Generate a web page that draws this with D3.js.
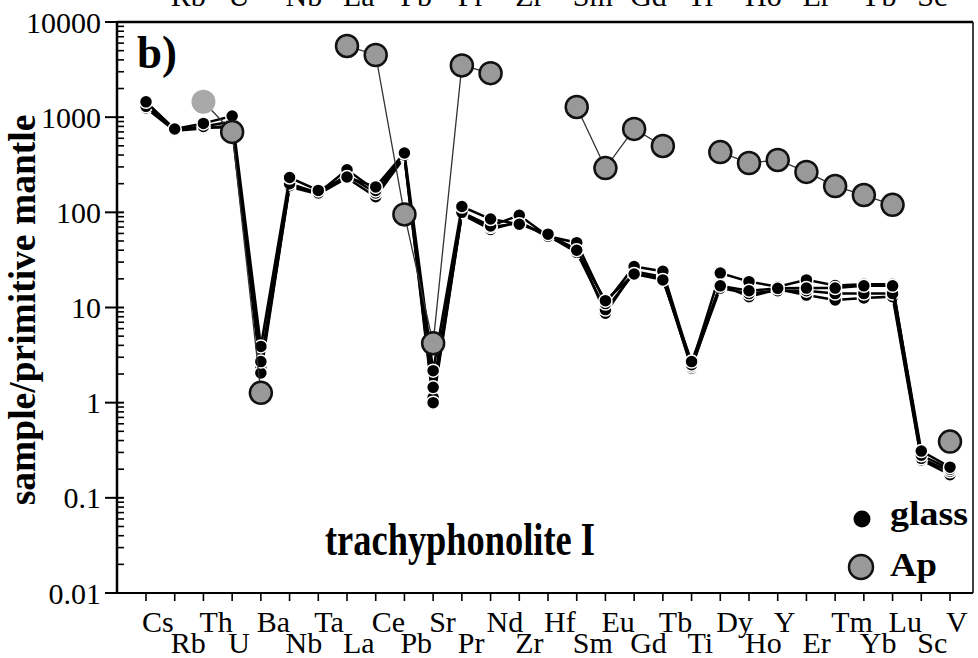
<!DOCTYPE html>
<meta charset='utf-8'>
<style>
body { margin: 0; background: #fff; }
svg { display: block; font-family: 'Liberation Serif', 'Times New Roman', serif; }
.glass-line { fill: none; stroke: #000; stroke-width: 2.5; }
.ap-line { fill: none; stroke: #333; stroke-width: 1.3; }
</style>
<svg width='978' height='658'></svg>
<script src='https://cdn.jsdelivr.net/npm/d3@7/dist/d3.min.js'></script>
<script>

var elements = ['Cs','Rb','Th','U','Ba','Nb','Ta','La','Ce','Pb','Sr','Pr','Nd','Zr','Hf',
                'Sm','Eu','Gd','Tb','Ti','Dy','Ho','Y','Er','Tm','Yb','Lu','Sc','V'];

// glass analyses (sample / primitive mantle), drawn first to last
var glass3 = [1250,720,760,820,2.3,186,155,230,146,380,1.13,95,66,80,55,42,8.7,24,21,2.3,17.5,13,15.5,13.5,12,12.6,13,0.25,0.175];
var glass4 = [1350,730,780,780,2.05,190,158,245,160,390,1.0,97,70,77,57,38,9.5,23,20,2.4,16,14,15,15,14,14,14,0.26,0.19];
var glass2 = [1300,740,800,900,2.7,200,160,280,170,400,1.45,100,72,93,56,48,11,27,24,2.5,23,18.7,16.5,19.5,17,17.5,17.5,0.28,0.2];
var glass1 = [1450,750,860,1030,3.9,232,170,235,185,420,2.17,115,85,75,59,40,11.8,22.5,19.5,2.7,16.9,15,15.9,16,16,16.9,16.9,0.31,0.21];

// apatite, null = not analysed
var apatite = [null,null,1450,700,1.27,null,null,5600,4500,95,4.2,3500,2900,null,null,
               1280,292,752,498,null,430,330,355,266,189,152,120,null,0.39];
var apFaint = ['Th'];

var yTicks = [0.01, 0.1, 1, 10, 100, 1000, 10000];
var yTickLabels = ['0.01', '0.1', '1', '10', '100', '1000', '10000'];

var svg = d3.select('svg'),
    plotLeft = 117, plotRight = 973, plotTop = 22, plotBottom = 593;

var x = d3.scalePoint().domain(elements).range([146, 950]);
var y = d3.scaleLog().domain([0.01, 10000]).range([plotBottom, plotTop]);

// frame
svg.append('line').attr('x1', plotLeft).attr('x2', plotRight).attr('y1', plotTop).attr('y2', plotTop)
    .attr('stroke', '#000').attr('stroke-width', 2.5);
svg.append('line').attr('x1', plotRight).attr('x2', plotRight).attr('y1', plotTop).attr('y2', plotBottom)
    .attr('stroke', '#000').attr('stroke-width', 1.5);

// y axis with inner minor ticks
var yAxis = svg.append('g').attr('transform', 'translate(' + plotLeft + ',0)');
yAxis.append('line').attr('y1', plotTop).attr('y2', plotBottom).attr('stroke', '#000').attr('stroke-width', 2.5);
var minors = [];
yTicks.slice(0, -1).forEach(function(d) {
    for (var k = 2; k <= 9; k++) minors.push(d * k);
});
yAxis.selectAll('.minor').data(minors).enter().append('line')
    .attr('x1', 0).attr('x2', 7)
    .attr('y1', function(d) { return y(d); }).attr('y2', function(d) { return y(d); })
    .attr('stroke', '#000').attr('stroke-width', 1.6);
yAxis.selectAll('.major').data(yTicks).enter().append('line')
    .attr('x1', -12).attr('x2', 7)
    .attr('y1', function(d) { return y(d); }).attr('y2', function(d) { return y(d); })
    .attr('stroke', '#000').attr('stroke-width', 2);
yAxis.selectAll('.ylab').data(yTicks).enter().append('text')
    .attr('x', -16).attr('y', function(d) { return y(d); })
    .attr('dy', '0.35em').attr('text-anchor', 'end')
    .attr('font-size', 30)
    .text(function(d, i) { return yTickLabels[i]; });

svg.append('text')
    .attr('transform', 'translate(35,310) rotate(-90)')
    .attr('text-anchor', 'middle')
    .attr('font-size', 37.5).attr('font-weight', 'bold')
    .text('sample/primitive mantle');

// x axis
var xAxis = svg.append('g');
xAxis.append('line').attr('x1', plotLeft).attr('x2', plotRight).attr('y1', plotBottom).attr('y2', plotBottom)
    .attr('stroke', '#000').attr('stroke-width', 2);
xAxis.selectAll('.xt').data(elements).enter().append('line')
    .attr('x1', function(d) { return x(d); }).attr('x2', function(d) { return x(d); })
    .attr('y1', plotBottom).attr('y2', plotBottom + 8)
    .attr('stroke', '#000').attr('stroke-width', 1.6);
xAxis.selectAll('.xl').data(elements).enter().append('text')
    .attr('x', function(d) { return x(d) - 4; })
    .attr('y', function(d, i) { return i % 2 ? 653 : 632; })
    .attr('font-size', 30)
    .text(function(d) { return d; });

// clipped labels of the panel above
svg.selectAll('.prev').data(elements.filter(function(d, i) { return i % 2; })).enter().append('text')
    .attr('x', function(d) { return x(d) - 4; })
    .attr('y', 6)
    .attr('font-size', 30)
    .text(function(d) { return d; });

// glass series
var line = d3.line()
    .x(function(d, i) { return x(elements[i]); })
    .y(function(d) { return y(d); });

[glass3, glass4, glass2, glass1].forEach(function(series) {
    var g = svg.append('g');
    g.append('path').datum(series).attr('class', 'glass-line').attr('d', line);
    g.selectAll('circle').data(series).enter().append('circle')
        .attr('cx', function(d, i) { return x(elements[i]); })
        .attr('cy', function(d) { return y(d); })
        .attr('r', 6.5)
        .attr('fill', '#000').attr('stroke', '#fff').attr('stroke-width', 1.5);
});

// apatite
var apLine = d3.line()
    .defined(function(d) { return d != null; })
    .x(function(d, i) { return x(elements[i]); })
    .y(function(d) { return y(d); });
var apG = svg.append('g');
apG.append('path').datum(apatite).attr('class', 'ap-line').attr('d', apLine);
var apPts = apatite.map(function(v, i) { return { el: elements[i], v: v }; })
    .filter(function(d) { return d.v != null; });
apG.selectAll('circle').data(apPts).enter().append('circle')
    .attr('cx', function(d) { return x(d.el); })
    .attr('cy', function(d) { return y(d.v); })
    .attr('r', function(d) { return apFaint.indexOf(d.el) >= 0 ? 12 : 11; })
    .attr('fill', function(d) { return apFaint.indexOf(d.el) >= 0 ? '#a9a9a9' : '#999'; })
    .attr('stroke', function(d) { return apFaint.indexOf(d.el) >= 0 ? 'none' : '#111'; })
    .attr('stroke-width', 2.5);

// annotations
svg.append('text').attr('x', 137).attr('y', 68)
    .attr('font-size', 46).attr('font-weight', 'bold')
    .attr('textLength', 40).attr('lengthAdjust', 'spacingAndGlyphs').text('b)');
svg.append('text').attr('x', 325).attr('y', 555)
    .attr('font-size', 46).attr('font-weight', 'bold')
    .attr('textLength', 270).attr('lengthAdjust', 'spacingAndGlyphs')
    .text('trachyphonolite I');

// legend
svg.append('circle').attr('cx', 862).attr('cy', 519).attr('r', 8.5).attr('fill', '#000');
svg.append('text').attr('x', 890).attr('y', 525)
    .attr('font-size', 34).attr('font-weight', 'bold')
    .attr('textLength', 78).attr('lengthAdjust', 'spacingAndGlyphs').text('glass');
svg.append('circle').attr('cx', 861).attr('cy', 567).attr('r', 12)
    .attr('fill', '#999').attr('stroke', '#111').attr('stroke-width', 2.5);
svg.append('text').attr('x', 890).attr('y', 576)
    .attr('font-size', 34).attr('font-weight', 'bold')
    .attr('textLength', 47).attr('lengthAdjust', 'spacingAndGlyphs').text('Ap');

</script>
